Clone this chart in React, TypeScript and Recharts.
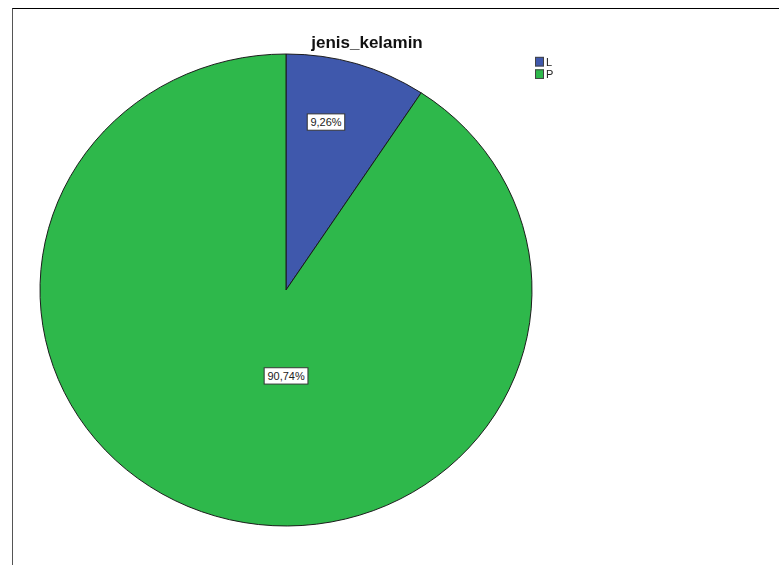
import { PieChart, Pie, Cell, Legend } from "recharts";

// jenis_kelamin: jumlah responden per kategori (5/54 = 9,26%, 49/54 = 90,74%)
const CATEGORIES = ["L", "P"];
const COUNTS = [5, 49];
const COLORS = ["#3f58ac", "#2eb84b"];

// posisi label: faktor radius dan koreksi sudut ala SPSS
const LABEL_R = [0.73, 0.364];
const LABEL_SHIFT = [3.8, 16.7];

const W = 779;
const H = 565;
const CX = 286;
const CY = 290;
const R = 246;
const SY = 236 / 246; // pie di gambar sedikit lonjong
const FONT = "'Liberation Sans', Arial, sans-serif";
const RAD = Math.PI / 180;

const data = CATEGORIES.map((name, i) => ({ name, value: COUNTS[i] }));

const fmtPct = (p: number) => `${(p * 100).toFixed(2).replace(".", ",")}%`;

function PctLabel(props: any) {
  const { cx, cy, midAngle, outerRadius, percent, index } = props;
  const a = (midAngle + LABEL_SHIFT[index]) * RAD;
  const r = outerRadius * LABEL_R[index];
  const x = cx + r * Math.cos(-a);
  const y = cy + r * Math.sin(-a);
  const txt = fmtPct(percent);
  const bw = txt.length * 6.3 + 6;
  const bh = 17;
  return (
    <g>
      <rect
        x={x - bw / 2}
        y={y - bh / 2}
        width={bw}
        height={bh}
        fill="#fff"
        stroke="#333"
        strokeWidth={1}
      />
      <text
        x={x}
        y={y + 4}
        textAnchor="middle"
        fontSize={11}
        fontFamily={FONT}
        fill="#222"
      >
        {txt}
      </text>
    </g>
  );
}

function LegendBox({ payload }: any) {
  return (
    <div style={{ fontFamily: FONT, fontSize: 11, color: "#222" }}>
      {(payload || []).map((p: any) => (
        <div
          key={p.value}
          style={{ display: "flex", alignItems: "center", height: 13.5 }}
        >
          <span
            style={{
              display: "inline-block",
              width: 7,
              height: 8,
              background: p.color,
              border: "1px solid #444",
              marginRight: 2,
            }}
          />
          <span>{p.value}</span>
        </div>
      ))}
    </div>
  );
}

export default function App() {
  return (
    <div
      style={{
        position: "absolute",
        left: 0,
        top: 0,
        width: W,
        height: H,
        background: "#fff",
        overflow: "hidden",
      }}
    >
      <div
        style={{
          position: "absolute",
          left: 12,
          top: 8,
          width: W,
          height: H,
          borderTop: "1px solid #000",
          borderLeft: "1px solid #555",
        }}
      />
      <div
        style={{
          position: "absolute",
          left: 0,
          top: 0,
          width: W,
          height: H,
          transform: `scaleY(${SY})`,
          transformOrigin: `0px ${CY}px`,
        }}
      >
        <PieChart width={W} height={H} margin={{ top: 0, right: 0, bottom: 0, left: 0 }}>
          <Pie
            data={data}
            dataKey="value"
            nameKey="name"
            cx={CX}
            cy={CY}
            outerRadius={R}
            startAngle={90}
            endAngle={-270}
            stroke="#1a1a1a"
            strokeWidth={1}
            label={PctLabel}
            labelLine={false}
            isAnimationActive={false}
          >
            {data.map((d, i) => (
              <Cell key={d.name} fill={COLORS[i]} />
            ))}
          </Pie>
          <Legend
            content={LegendBox}
            layout="vertical"
            wrapperStyle={{ position: "absolute", left: 535, top: 45, width: 40 }}
          />
        </PieChart>
      </div>
      <div
        style={{
          position: "absolute",
          left: 267,
          top: 34,
          width: 200,
          textAlign: "center",
          fontFamily: FONT,
          fontWeight: "bold",
          fontSize: 17,
          lineHeight: "17px",
          color: "#111",
        }}
      >
        jenis_kelamin
      </div>
    </div>
  );
}
